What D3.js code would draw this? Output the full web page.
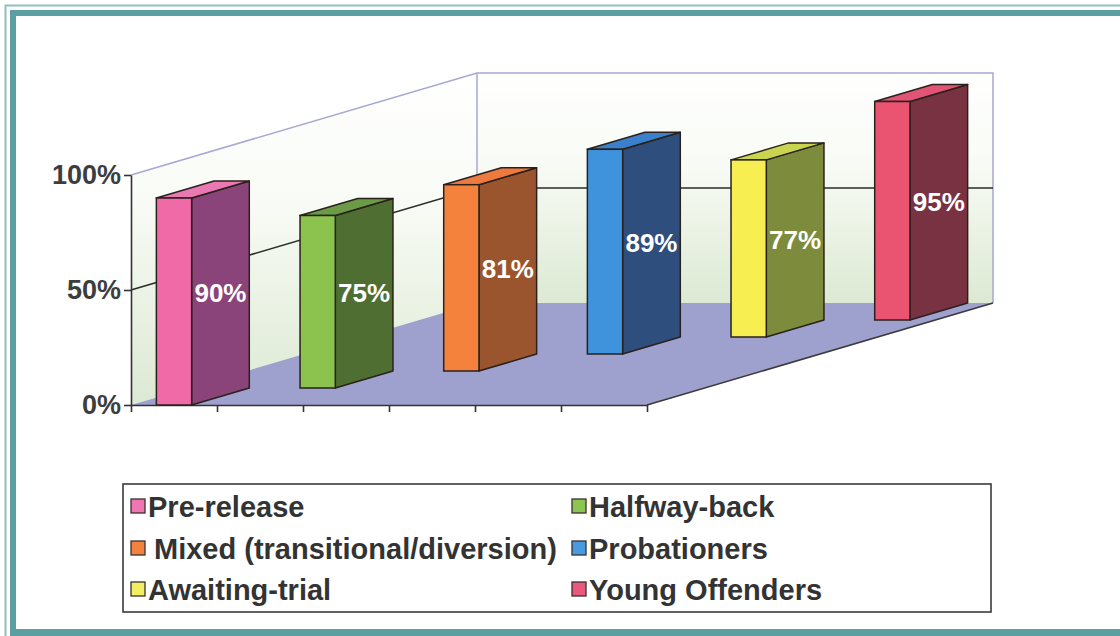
<!DOCTYPE html>
<html>
<head>
<meta charset="utf-8">
<script src="https://cdn.jsdelivr.net/npm/d3@7"></script>
<style>
  html, body { margin: 0; padding: 0; background: #ffffff; }
  svg { display: block; }
  text { font-family: "Liberation Sans", Arial, Helvetica, sans-serif; font-weight: bold; }
</style>
</head>
<body>
<svg id="chart" width="1120" height="636"></svg>
<script>
// Programme types and the share (%) shown on each column
const categories = [
  "Pre-release",
  "Halfway-back",
  "Mixed (transitional/diversion)",
  "Probationers",
  "Awaiting-trial",
  "Young Offenders"
];
const values = [90, 75, 81, 89, 77, 95];
const yTickValues = [0, 50, 100];

// Face shading for each column: front, side, top, and the legend key
const frontColors  = ["#f06aa8", "#8cc34e", "#f5823c", "#3f93dc", "#f7ee52", "#ea5470"];
const sideColors   = ["#8b4479", "#4f6e32", "#9a552f", "#2e4e7d", "#7d8b3c", "#793242"];
const topColors    = ["#ea78b2", "#6b9b47", "#ee7a40", "#3a80cc", "#c9d54e", "#e25476"];
const legendColors = ["#ef76b0", "#8cc551", "#f3823f", "#4a9ae0", "#f3ef62", "#e85a7c"];

const svg = d3.select("#chart");

// ---- page frame -------------------------------------------------------
const frame = svg.append("g");
frame.append("rect").attr("x", 0).attr("y", 0).attr("width", 1120).attr("height", 636).attr("fill", "#ffffff");
frame.append("path")
  .attr("d", "M5.5,636 V5.5 H1120")
  .attr("fill", "none").attr("stroke", "#8fc0c0").attr("stroke-width", 2);
frame.append("path")
  .attr("d", "M13,636 V13 H1120")
  .attr("fill", "none").attr("stroke", "#5b9fa2").attr("stroke-width", 6);
frame.append("rect").attr("x", 10).attr("y", 629).attr("width", 1110).attr("height", 7).attr("fill", "#5b9fa2");

// ---- 3-D geometry ------------------------------------------------------
const x0 = 131, x1 = 647, yBase = 405, yTop = 175;
const depthX = 346, depthY = 102;       // oblique offset of the full depth

const x = d3.scaleBand().domain(categories).range([x0, x1]);
const depth = d3.scaleBand().domain(categories).range([0, 1]);
const y = d3.scaleLinear().domain([0, 100]).range([yBase, yTop]);
const edge = d3.scaleLinear().domain([0, categories.length]).range([x0, x1]);

const barW = x.bandwidth() * 0.41;
const rowDx = depth.bandwidth() * depthX;
const rowDy = depth.bandwidth() * depthY;

const proj = (px, py, d) => [px + d * depthX, py - d * depthY];
const poly = pts => "M" + pts.map(p => p.join(",")).join("L") + "Z";

const defs = svg.append("defs");
const wallGrad = defs.append("linearGradient")
  .attr("id", "wallFill").attr("x1", 0).attr("y1", 0).attr("x2", 0).attr("y2", 1);
wallGrad.append("stop").attr("offset", "0%").attr("stop-color", "#ffffff");
wallGrad.append("stop").attr("offset", "40%").attr("stop-color", "#f8fbf5");
wallGrad.append("stop").attr("offset", "100%").attr("stop-color", "#dce9d3");

const plot = svg.append("g");

// side wall and back wall
plot.append("path")
  .attr("d", poly([proj(x0, y(0), 0), proj(x0, y(100), 0), proj(x0, y(100), 1), proj(x0, y(0), 1)]))
  .attr("fill", "url(#wallFill)");
plot.append("path")
  .attr("d", poly([proj(x0, y(0), 1), proj(x0, y(100), 1), proj(x1, y(100), 1), proj(x1, y(0), 1)]))
  .attr("fill", "url(#wallFill)");

// floor
plot.append("path")
  .attr("d", poly([proj(x0, y(0), 0), proj(x1, y(0), 0), proj(x1, y(0), 1), proj(x0, y(0), 1)]))
  .attr("fill", "#9ea0cd");

// wall outlines
const wallLine = "#a7a8d4";
plot.append("path")
  .attr("d", "M" + [proj(x0, y(100), 0), proj(x0, y(100), 1), proj(x1, y(100), 1), proj(x1, y(0), 1)].map(p => p.join(",")).join("L"))
  .attr("fill", "none").attr("stroke", wallLine).attr("stroke-width", 1.5);
plot.append("line")
  .attr("x1", proj(x0, 0, 1)[0]).attr("x2", proj(x0, 0, 1)[0])
  .attr("y1", proj(x0, y(100), 1)[1]).attr("y2", proj(x0, y(0), 1)[1])
  .attr("stroke", wallLine).attr("stroke-width", 1.5);

// gridlines between floor and top
yTickValues.filter(t => t > 0 && t < 100).forEach(t => {
  const pts = [proj(x0, y(t), 0), proj(x0, y(t), 1), proj(x1, y(t), 1)];
  plot.append("path")
    .attr("d", "M" + pts.map(p => p.join(",")).join("L"))
    .attr("fill", "none").attr("stroke", "#2b2b2b").attr("stroke-width", 1.6);
});

// floor right edge
plot.append("line")
  .attr("x1", proj(x1, y(0), 0)[0]).attr("y1", proj(x1, y(0), 0)[1])
  .attr("x2", proj(x1, y(0), 1)[0]).attr("y2", proj(x1, y(0), 1)[1])
  .attr("stroke", "#3a3a3a").attr("stroke-width", 1.6);

// value axis
const yAxis = plot.append("g")
  .attr("transform", `translate(${x0},0)`)
  .call(d3.axisLeft(y).tickValues(yTickValues).tickFormat(d => d + "%").tickSize(7).tickSizeOuter(0).tickPadding(3));
yAxis.select(".domain").attr("stroke", "#333").attr("stroke-width", 1.6);
yAxis.selectAll(".tick line").attr("stroke", "#333").attr("stroke-width", 1.6);
yAxis.selectAll(".tick text")
  .attr("fill", "#3d3d3d").style("font-size", "27px").style("font-weight", "bold")
  .style("font-family", "'Liberation Sans', Arial, sans-serif");

// category axis (front floor edge)
const xAxis = plot.append("g")
  .attr("transform", `translate(0,${yBase})`)
  .call(d3.axisBottom(edge).tickValues(d3.range(categories.length + 1)).tickFormat("").tickSize(7).tickSizeOuter(0));
xAxis.select(".domain").attr("stroke", "#333").attr("stroke-width", 1.6);
xAxis.selectAll(".tick line").attr("stroke", "#333").attr("stroke-width", 1.6);

// ---- columns -----------------------------------------------------------
const bars = categories.map((c, i) => {
  const d = depth(c);
  const fx = x(c) + (x.bandwidth() - barW) / 2 + d * depthX;
  const fy = yBase - d * depthY;
  const h = yBase - y(values[i]);
  return { c, i, fx, fy, h };
}).reverse();   // draw back rows first

const outline = "#2a211c";
const barG = plot.selectAll("g.bar").data(bars).join("g").attr("class", "bar");

barG.append("path")   // side
  .attr("d", b => poly([[b.fx + barW, b.fy], [b.fx + barW, b.fy - b.h],
                        [b.fx + barW + rowDx, b.fy - b.h - rowDy], [b.fx + barW + rowDx, b.fy - rowDy]]))
  .attr("fill", b => sideColors[b.i]).attr("stroke", outline).attr("stroke-width", 1.5).attr("stroke-linejoin", "round");
barG.append("path")   // top
  .attr("d", b => poly([[b.fx, b.fy - b.h], [b.fx + barW, b.fy - b.h],
                        [b.fx + barW + rowDx, b.fy - b.h - rowDy], [b.fx + rowDx, b.fy - b.h - rowDy]]))
  .attr("fill", b => topColors[b.i]).attr("stroke", outline).attr("stroke-width", 1.5).attr("stroke-linejoin", "round");
barG.append("rect")   // front
  .attr("x", b => b.fx).attr("y", b => b.fy - b.h)
  .attr("width", barW).attr("height", b => b.h)
  .attr("fill", b => frontColors[b.i]).attr("stroke", outline).attr("stroke-width", 1.5);

// value labels on the side face
barG.append("text")
  .attr("x", b => b.fx + barW + rowDx / 2)
  .attr("y", b => b.fy - b.h / 2 - rowDy / 2)
  .attr("text-anchor", "middle").attr("dominant-baseline", "central")
  .attr("fill", "#ffffff").style("font-size", "26px")
  .text(b => values[b.i] + "%");

// ---- legend ------------------------------------------------------------
const legendBox = { left: 123, top: 484, right: 991, bottom: 612 };
const legend = svg.append("g");
legend.append("rect")
  .attr("x", legendBox.left).attr("y", legendBox.top)
  .attr("width", legendBox.right - legendBox.left).attr("height", legendBox.bottom - legendBox.top)
  .attr("fill", "#ffffff").attr("stroke", "#3a3a3a").attr("stroke-width", 1.6);

const colX = [131, 572];
const rowY = [506, 548, 589];
const items = legend.selectAll("g.item").data(categories).join("g").attr("class", "item")
  .attr("transform", (c, i) => `translate(${colX[i % 2]},${rowY[Math.floor(i / 2)]})`);
items.append("rect")
  .attr("x", 0).attr("y", -7).attr("width", 14).attr("height", 14)
  .attr("fill", (c, i) => legendColors[i]).attr("stroke", "#3a3030").attr("stroke-width", 1.3);
items.append("text")
  .attr("x", (c, i) => i === 2 ? 23 : 17).attr("y", 1)
  .attr("dominant-baseline", "central")
  .attr("fill", "#333333").style("font-size", "29px")
  .text(c => c);
</script>
</body>
</html>
